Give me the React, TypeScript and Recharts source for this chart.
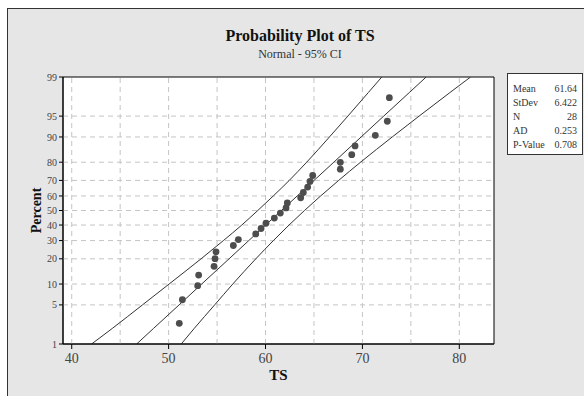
import React from 'react';
import { ComposedChart, XAxis, YAxis, Line, Scatter, ReferenceLine, ReferenceArea } from 'recharts';

// Observed TS values (sorted) and their plotted percent positions
const tsValues = [51.10, 51.42, 53.0, 53.1, 54.69, 54.79, 54.89, 56.68, 57.2, 58.99, 59.54, 60.05, 60.91, 61.53, 62.12, 62.25, 63.63, 63.9, 64.35, 64.59, 64.87, 67.72, 67.72, 68.9, 69.24, 71.33, 72.57, 72.78];
const tsPercents = [2.46, 5.99, 9.51, 13.03, 16.55, 20.07, 23.59, 27.11, 30.63, 34.15, 37.68, 41.2, 44.72, 48.24, 51.76, 55.28, 58.8, 62.32, 65.85, 69.37, 72.89, 76.41, 79.93, 83.45, 86.97, 90.49, 94.01, 97.54];

// Fitted line and 95% CI bands, read at percent levels
const bandPercents = [1, 2, 5, 10, 20, 30, 40, 50, 60, 70, 80, 90, 95, 98, 99];
const fitX = [46.7, 48.45, 51.08, 53.41, 56.24, 58.27, 60.01, 61.64, 63.27, 65.01, 67.05, 69.87, 72.2, 74.83, 76.58];
const ciLowX = [42.05, 44.2, 47.3, 50.05, 53.35, 55.65, 57.55, 59.2, 60.8, 62.45, 64.25, 66.6, 68.5, 70.6, 72.0];
const ciHighX = [51.3, 52.65, 54.75, 56.62, 59.0, 60.81, 62.43, 64.02, 65.69, 67.55, 69.81, 73.08, 75.85, 79.02, 81.16];

// Axis ticks
const yTickPercents = [1, 5, 10, 20, 30, 40, 50, 60, 70, 80, 90, 95, 99];
const xTickLabels = [40, 50, 60, 70, 80];
const xGridValues = [40, 45, 50, 55, 60, 65, 70, 75, 80];
const xDomain = [39.1, 83.58];

// Summary table
const statLabels = ['Mean', 'StDev', 'N', 'AD', 'P-Value'];
const statValues = ['61.64', '6.422', '28', '0.253', '0.708'];

// inverse standard normal (probability scale transform)
function probit(p: number): number {
  const a = [-3.969683028665376e1, 2.209460984245205e2, -2.759285104469687e2, 1.38357751867269e2, -3.066479806614716e1, 2.506628277459239];
  const b = [-5.447609879822406e1, 1.615858368580409e2, -1.556989798598866e2, 6.680131188771972e1, -1.328068155288572e1];
  const c = [-7.784894002430293e-3, -3.223964580411365e-1, -2.400758277161838, -2.549732539343734, 4.374664141464968, 2.938163982698783];
  const d = [7.784695709041462e-3, 3.224671290700398e-1, 2.445134137142996, 3.754408661907416];
  const plow = 0.02425;
  if (p < plow) {
    const q = Math.sqrt(-2 * Math.log(p));
    return (((((c[0] * q + c[1]) * q + c[2]) * q + c[3]) * q + c[4]) * q + c[5]) / ((((d[0] * q + d[1]) * q + d[2]) * q + d[3]) * q + 1);
  }
  if (p <= 1 - plow) {
    const q = p - 0.5;
    const r = q * q;
    return ((((((a[0] * r + a[1]) * r + a[2]) * r + a[3]) * r + a[4]) * r + a[5]) * q) / (((((b[0] * r + b[1]) * r + b[2]) * r + b[3]) * r + b[4]) * r + 1);
  }
  const q = Math.sqrt(-2 * Math.log(1 - p));
  return -(((((c[0] * q + c[1]) * q + c[2]) * q + c[3]) * q + c[4]) * q + c[5]) / ((((d[0] * q + d[1]) * q + d[2]) * q + d[3]) * q + 1);
}
const zOf = (pct: number) => probit(pct / 100);

const pointsData = tsValues.map((x, i) => ({ x, z: zOf(tsPercents[i]) }));
const fitData = fitX.map((x, i) => ({ x, z: zOf(bandPercents[i]) }));
const lowData = ciLowX.map((x, i) => ({ x, z: zOf(bandPercents[i]) }));
const highData = ciHighX.map((x, i) => ({ x, z: zOf(bandPercents[i]) }));
const yTicks = yTickPercents.map(zOf);
const yDomain = [zOf(1), zOf(99)];

const FONT = '"Liberation Serif", "Times New Roman", serif';
const GRID = '#c4c4c4';

const yLabel = (v: number) => {
  let best = 0;
  let bd = Infinity;
  yTickPercents.forEach((p, i) => {
    const dd = Math.abs(yTicks[i] - v);
    if (dd < bd) { bd = dd; best = p; }
  });
  return String(best);
};

const Dot = (props: any) => <circle cx={props.cx} cy={props.cy} r={3.4} fill="#4d4d4d" />;

export default function App() {
  return (
    <div style={{ position: 'absolute', left: 0, top: 0, width: 584, height: 396, overflow: 'hidden', fontFamily: FONT }}>
      <div style={{ position: 'absolute', left: 7, top: 8, width: 620, height: 420, background: '#e6e6e6', border: '1px solid #333', boxSizing: 'border-box' }} />
      <div style={{ position: 'absolute', left: 0, top: 0 }}>
        <ComposedChart width={584} height={396} margin={{ top: 77, right: 90, bottom: 22, left: 0 }}>
          <XAxis
            type="number"
            dataKey="x"
            domain={xDomain}
            ticks={xTickLabels}
            interval={0}
            allowDataOverflow
            stroke="#000"
            tickSize={5}
            tickMargin={4}
            height={30}
            tick={{ fill: '#444', fontSize: 14, fontFamily: FONT }}
            tickLine={{ stroke: '#000' }}
            axisLine={{ stroke: '#000' }}
          />
          <YAxis
            type="number"
            dataKey="z"
            domain={yDomain}
            ticks={yTicks}
            interval={0}
            allowDataOverflow
            width={63}
            tickSize={4}
            tickMargin={2}
            tickFormatter={yLabel}
            tick={{ fill: '#444', fontSize: 10, fontFamily: FONT }}
            tickLine={{ stroke: '#000' }}
            axisLine={{ stroke: '#000' }}
          />
          <ReferenceArea x1={xDomain[0]} x2={xDomain[1]} y1={yDomain[0]} y2={yDomain[1]} fill="#fff" fillOpacity={1} stroke="none" />
          {xGridValues.map((v) => (
            <ReferenceLine key={'gx' + v} x={v} stroke={GRID} strokeDasharray="5 4" />
          ))}
          {yTicks.slice(1, -1).map((v, i) => (
            <ReferenceLine key={'gy' + i} y={v} stroke={GRID} strokeDasharray="5 4" />
          ))}
          <Line data={lowData} dataKey="z" type="monotone" stroke="#333" strokeWidth={1} dot={false} activeDot={false} isAnimationActive={false} />
          <Line data={fitData} dataKey="z" type="monotone" stroke="#333" strokeWidth={1} dot={false} activeDot={false} isAnimationActive={false} />
          <Line data={highData} dataKey="z" type="monotone" stroke="#333" strokeWidth={1} dot={false} activeDot={false} isAnimationActive={false} />
          <Scatter data={pointsData} shape={Dot} isAnimationActive={false} />
          <ReferenceArea x1={xDomain[0]} x2={xDomain[1]} y1={yDomain[0]} y2={yDomain[1]} fill="none" stroke="#000" strokeWidth={1} />
        </ComposedChart>
      </div>
      <svg width={584} height={396} style={{ position: 'absolute', left: 0, top: 0, pointerEvents: 'none' }}>
        <text x={300} y={41} textAnchor="middle" fontFamily={FONT} fontSize={16} fontWeight="bold" fill="#111">Probability Plot of TS</text>
        <text x={300} y={58} textAnchor="middle" fontFamily={FONT} fontSize={12} fill="#333">Normal - 95% CI</text>
        <text transform="translate(40.5,210.5) rotate(-90)" textAnchor="middle" fontFamily={FONT} fontSize={14} fontWeight="bold" fill="#111">Percent</text>
        <text x={278.5} y={380} textAnchor="middle" fontFamily={FONT} fontSize={15} fontWeight="bold" fill="#111">TS</text>
        <rect x={507.5} y={73.5} width={75} height={81} fill="#fff" stroke="#333" />
        {statLabels.map((s, i) => (
          <g key={s}>
            <text x={513} y={91.7 + i * 14.1} fontFamily={FONT} fontSize={10} fill="#333">{s}</text>
            <text x={577} y={91.7 + i * 14.1} textAnchor="end" fontFamily={FONT} fontSize={10} fill="#333">{statValues[i]}</text>
          </g>
        ))}
      </svg>
    </div>
  );
}
